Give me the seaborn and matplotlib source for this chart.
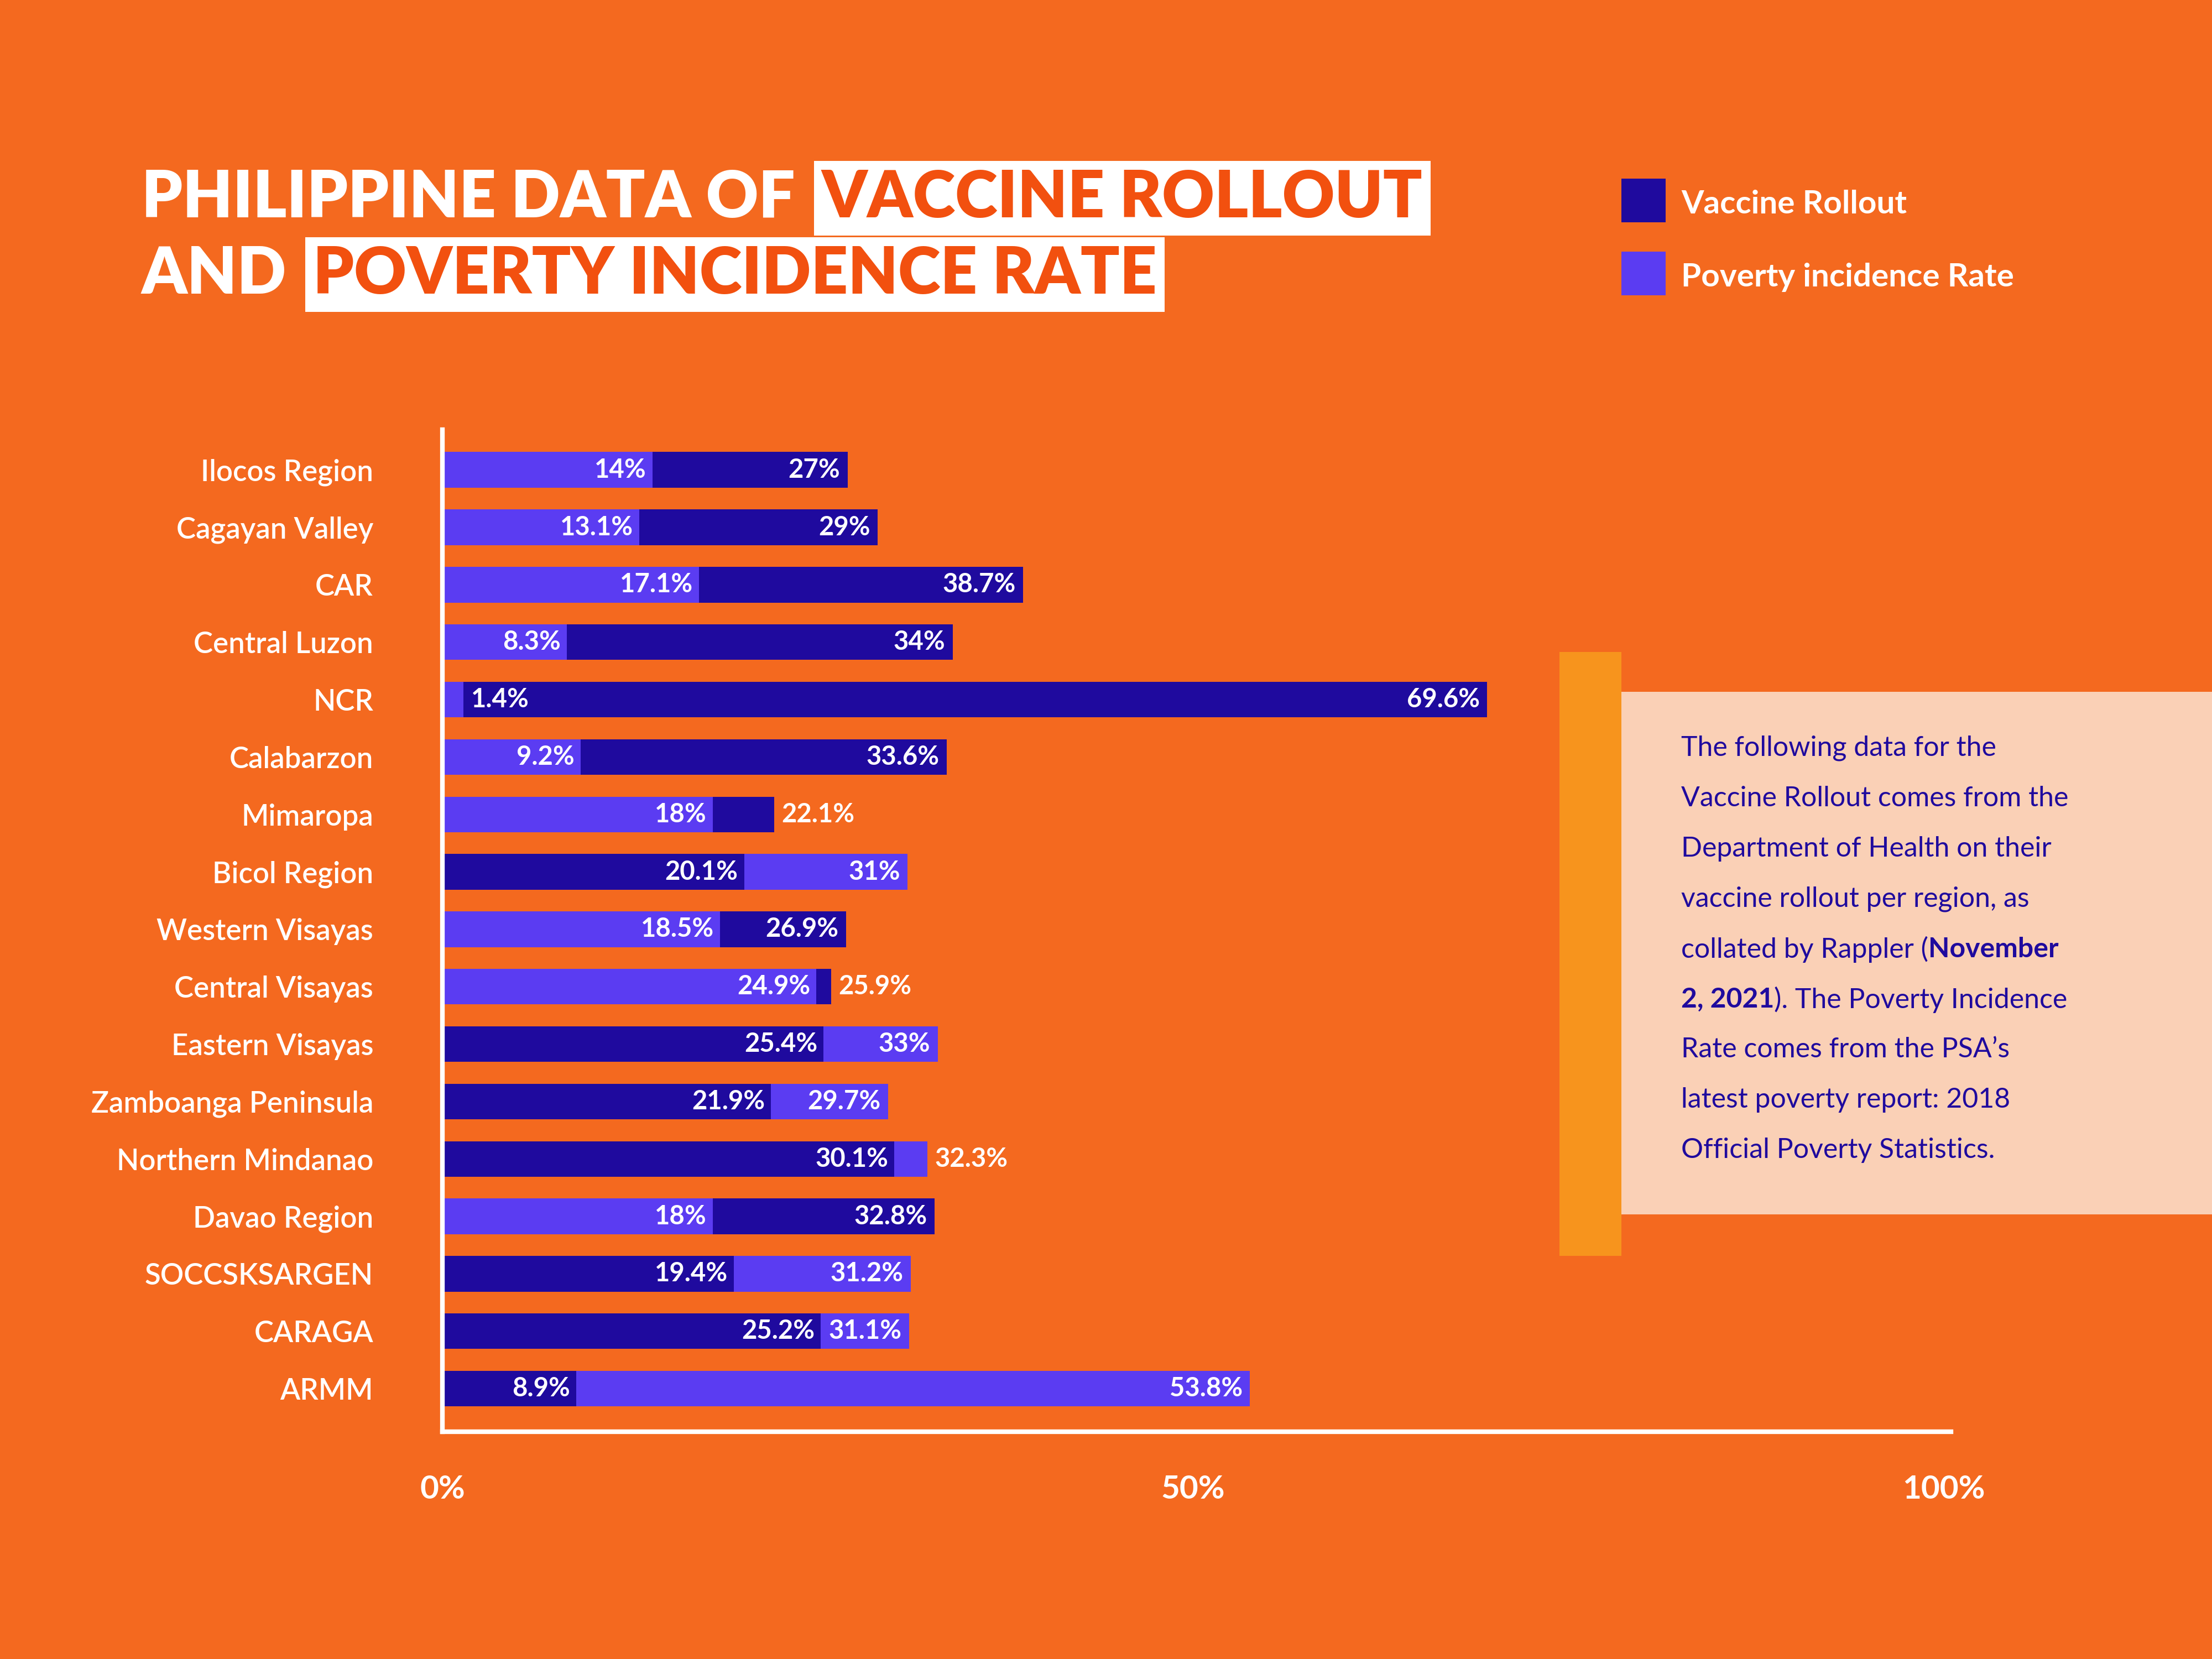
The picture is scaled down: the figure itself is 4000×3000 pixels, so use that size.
import matplotlib
matplotlib.use("Agg")
import matplotlib.pyplot as plt
import seaborn as sns
import pandas as pd
from matplotlib.patches import Rectangle

regions = ["Ilocos Region", "Cagayan Valley", "CAR", "Central Luzon", "NCR", "Calabarzon",
           "Mimaropa", "Bicol Region", "Western Visayas", "Central Visayas", "Eastern Visayas",
           "Zamboanga Peninsula", "Northern Mindanao", "Davao Region", "SOCCSKSARGEN",
           "CARAGA", "ARMM"]
vaccine = [27, 29, 38.7, 34, 69.6, 33.6, 22.1, 20.1, 26.9, 25.9, 25.4, 21.9, 30.1, 32.8, 19.4, 25.2, 8.9]
poverty = [14, 13.1, 17.1, 8.3, 1.4, 9.2, 18, 31, 18.5, 24.9, 33, 29.7, 32.3, 18, 31.2, 31.1, 53.8]
ticks = [0, 50, 100]
tick_labels = ["0%", "50%", "100%"]

BG = "#F4691F"
DARK = "#1F0A9E"
LIGHT = "#5B3CF2"
pal = {"Vaccine Rollout": DARK, "Poverty incidence Rate": LIGHT}

back, front = [], []
for r, v, p in zip(regions, vaccine, poverty):
    big, small = (("Vaccine Rollout", v), ("Poverty incidence Rate", p)) if v >= p else (("Poverty incidence Rate", p), ("Vaccine Rollout", v))
    back.append({"region": r, "series": big[0], "value": big[1], "other": small[1]})
    front.append({"region": r, "series": small[0], "value": small[1]})
dback = pd.DataFrame(back)
dfront = pd.DataFrame(front)

sns.set_theme(style="white")
plt.rcParams["font.family"] = ["Lato", "DejaVu Sans"]

fig = plt.figure(figsize=(20, 15), dpi=200)
fig.patch.set_facecolor(BG)
ax = fig.add_axes([0.2, 0.137, 0.682, 0.604])
ax.set_facecolor("none")

for d in (dback, dfront):
    sns.barplot(data=d, x="value", y="region", hue="series", palette=pal, dodge=False,
                order=regions, orient="h", width=0.62, legend=False, ax=ax,
                saturation=1, linewidth=0, edgecolor="none")

fmt = lambda x: f"{x:g}%"
kw = dict(va="center", color="white", fontsize=17, fontweight="bold")
for i, row in dback.iterrows():
    big, small = row["value"], row["other"]
    if small < 5:
        ax.text(small + 0.5, i, fmt(small), ha="left", **kw)
    else:
        ax.text(small - 0.4, i, fmt(small), ha="right", **kw)
    if big - small < 5.5:
        ax.text(big + 0.5, i, fmt(big), ha="left", **kw)
    else:
        ax.text(big - 0.5, i, fmt(big), ha="right", **kw)

ax.set_xlim(0, 100.5)
ax.set_ylim(len(regions) - 0.25, -0.7)
ax.set_xticks(ticks)
ax.set_xticklabels(tick_labels, fontsize=21, fontweight="bold", color="white")
ax.tick_params(axis="x", pad=28, length=0)
ax.tick_params(axis="y", pad=45, length=0, labelsize=19, labelcolor="white")
for lab in ax.get_yticklabels():
    lab.set_fontweight("semibold")
ax.set_xlabel("")
ax.set_ylabel("")
for s in ["top", "right"]:
    ax.spines[s].set_visible(False)
for s in ["left", "bottom"]:
    ax.spines[s].set_color("white")
    ax.spines[s].set_linewidth(3)

fig.canvas.draw()
rend = fig.canvas.get_renderer()
TFS = 42
def title_line(y, parts):
    x = 0.064
    for txt, boxed in parts:
        if boxed:
            t = fig.text(x + 0.004, y, txt, fontsize=TFS, fontweight="heavy", color="#F2500F",
                         va="baseline", bbox=dict(boxstyle="square,pad=0.12", fc="white", ec="none"))
        else:
            t = fig.text(x, y, txt, fontsize=TFS, fontweight="heavy", color="white", va="baseline")
        bb = t.get_window_extent(renderer=rend)
        x += bb.width / fig.bbox.width + (0.008 if not boxed else 0.01)
title_line(0.869, [("PHILIPPINE DATA OF", False), ("VACCINE ROLLOUT", True)])
title_line(0.823, [("AND", False), ("POVERTY INCIDENCE RATE", True)])

for yy, lab, c in [(0.866, "Vaccine Rollout", DARK), (0.822, "Poverty incidence Rate", LIGHT)]:
    fig.patches.append(Rectangle((0.733, yy), 0.02, 0.0265, transform=fig.transFigure, fc=c, ec="none"))
    fig.text(0.76, yy + 0.011, lab, fontsize=21, fontweight="bold", color="white", va="center")

fig.patches.append(Rectangle((0.705, 0.243), 0.028, 0.364, transform=fig.transFigure, fc="#F7941D", ec="none"))
fig.patches.append(Rectangle((0.733, 0.268), 0.267, 0.315, transform=fig.transFigure, fc="#FBDCC8", ec="none", alpha=0.9))
lines = [
    [("The following data for the", "normal")],
    [("Vaccine Rollout comes from the", "normal")],
    [("Department of Health on their", "normal")],
    [("vaccine rollout per region, as", "normal")],
    [("collated by Rappler (", "normal"), ("November", "bold")],
    [("2, 2021", "bold"), ("). The Poverty Incidence", "normal")],
    [("Rate comes from the PSA\u2019s", "normal")],
    [("latest poverty report: 2018", "normal")],
    [("Official Poverty Statistics.", "normal")],
]
y0 = 0.549
for k, parts in enumerate(lines):
    x = 0.760
    y = y0 - k * 0.0303
    for txt, w in parts:
        t = fig.text(x, y, txt, fontsize=18, fontweight=w, color=DARK, va="center")
        x += t.get_window_extent(renderer=rend).width / fig.bbox.width

fig.savefig("out.png", dpi=200, facecolor=BG)
